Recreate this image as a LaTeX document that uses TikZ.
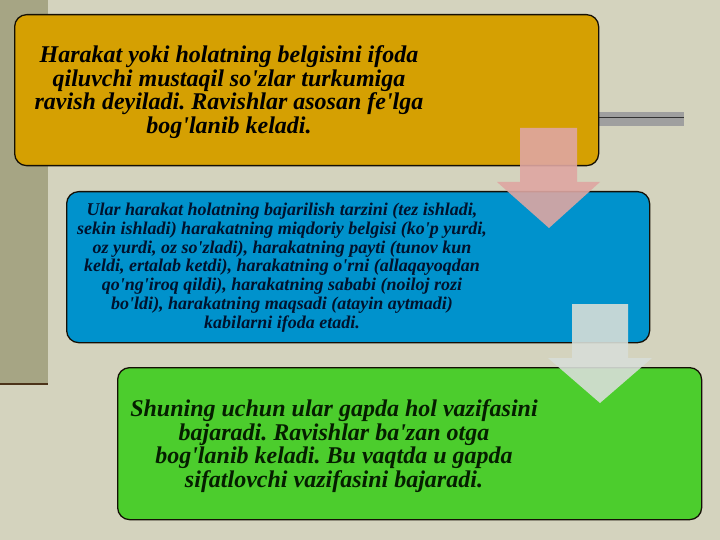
\documentclass[tikz,border=0pt]{standalone}
\usepackage{fontspec}
\setmainfont{Liberation Serif}[Ligatures=TeXOff]
\definecolor{bgc}{RGB}{212,211,190}
\definecolor{stripc}{RGB}{166,165,132}
\definecolor{orangec}{RGB}{213,160,2}
\definecolor{bluec}{RGB}{0,146,204}
\definecolor{greenc}{RGB}{76,205,45}
\definecolor{pinkc}{RGB}{222,166,162}
\definecolor{palec}{RGB}{216,222,216}
\definecolor{edgec}{RGB}{20,15,5}
\frenchspacing
\begin{document}
\begin{tikzpicture}[x=1pt,y=-1pt,
  box/.style={draw=edgec, line width=1.3pt, rounded corners=12pt, inner sep=0pt, anchor=north west},
  txt/.style={align=center, inner sep=0pt},
  bigtxt/.style={txt, font=\fontsize{24}{23.7}\selectfont\bfseries\itshape},
  smalltxt/.style={txt, font=\fontsize{18}{18.8}\selectfont\bfseries\itshape},
  blockarrow/.style={opacity=0.9}
]
\useasboundingbox (0,0) rectangle (720,540);
\fill[bgc] (0,0) rectangle (720,540);
\fill[stripc] (0,0) rectangle (48,384);
\draw[brown!40!black, line width=2pt] (0,384) -- (48,384);
% gray bar
\fill[gray!75] (598,112) rectangle (684,126);
\draw[black!80, line width=1pt] (598,117.5) -- (684,117.5);
% boxes
\node[box, fill=orangec, minimum width=584pt, minimum height=151pt] (top) at (14,14) {};
\node[box, fill=bluec, minimum width=583pt, minimum height=151pt] (mid) at (66,191) {};
\node[box, fill=greenc, minimum width=584pt, minimum height=152pt] (bot) at (117,367) {};
% texts
\node[bigtxt, text=black] (t1) at (229,92) {Harakat yoki holatning belgisini ifoda\\qiluvchi mustaqil so'zlar turkumiga\\ravish deyiladi. Ravishlar asosan fe'lga\\bog'lanib keladi.};
\node[smalltxt, text={rgb,255:red,0;green,18;blue,45}] (t2) at (282,267.5) {Ular harakat holatning bajarilish tarzini (tez ishladi,\\sekin ishladi) harakatning miqdoriy belgisi (ko'p yurdi,\\oz yurdi, oz so'zladi), harakatning payti (tunov kun\\keldi, ertalab ketdi), harakatning o'rni (allaqayoqdan\\qo'ng'iroq qildi), harakatning sababi (noiloj rozi\\bo'ldi), harakatning maqsadi (atayin aytmadi)\\kabilarni ifoda etadi.};
\node[bigtxt, text={rgb,255:red,5;green,30;blue,0}] (t3) at (334,446) {Shuning uchun ular gapda hol vazifasini\\bajaradi. Ravishlar ba'zan otga\\bog'lanib keladi. Bu vaqtda u gapda\\sifatlovchi vazifasini bajaradi.};
% block arrows
\fill[pinkc, blockarrow] (520,128) -- (577,128) -- (577,182) -- (600,182) -- (549,228) -- (497,182) -- (520,182) -- cycle;
\fill[palec, blockarrow] (572,304) -- (628,304) -- (628,358) -- (652,358) -- (600,403) -- (548,358) -- (572,358) -- cycle;
\end{tikzpicture}
\end{document}
